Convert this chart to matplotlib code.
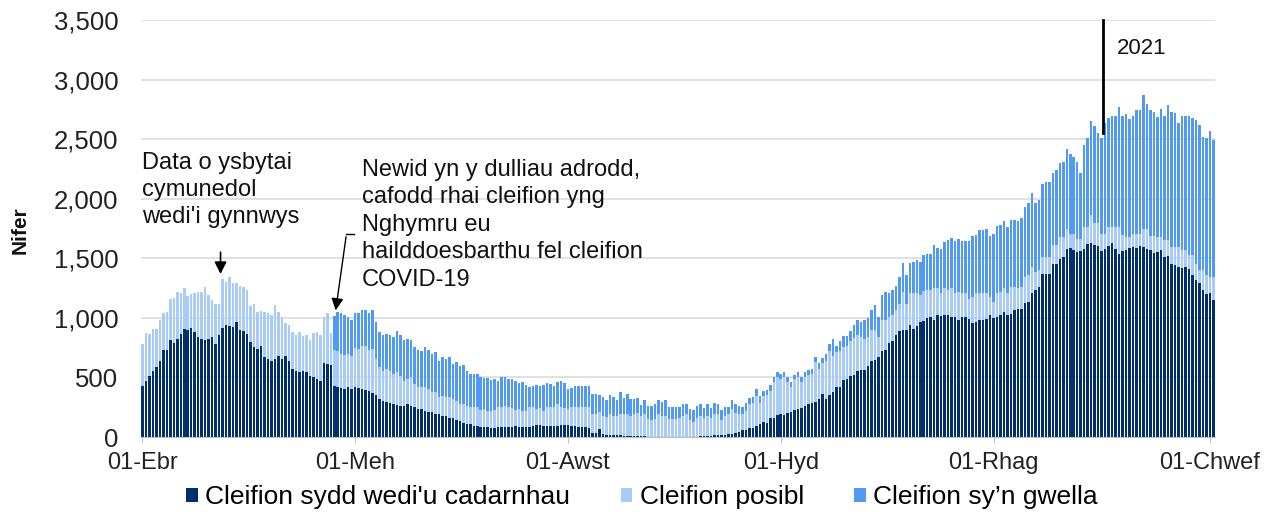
import numpy as np
import pandas as pd
import matplotlib
matplotlib.use("Agg")
import matplotlib.pyplot as plt
from matplotlib.patches import Patch

plt.rcParams['font.family'] = ['Liberation Sans', 'DejaVu Sans']

# dyddiol o 01-04-2020
start_date = "2020-04-01"

confirmed = [
    431, 473, 515, 558, 586, 642, 727, 732, 811, 789,
    825, 868, 910, 896, 918, 882, 839, 820, 811, 820,
    839, 783, 854, 918, 938, 930, 924, 966, 901, 890,
    868, 797, 755, 741, 761, 670, 656, 634, 656, 676,
    656, 676, 642, 572, 558, 549, 558, 544, 515, 501,
    487, 473, 620, 614, 606, 431, 417, 411, 403, 417,
    403, 423, 411, 403, 394, 383, 366, 355, 318, 304,
    290, 282, 276, 270, 262, 262, 276, 262, 248, 234,
    234, 220, 206, 206, 197, 192, 178, 178, 163, 158,
    141, 135, 121, 113, 107, 93, 93, 85, 85, 85,
    79, 74, 80, 85, 85, 85, 85, 94, 85, 85,
    85, 80, 94, 102, 99, 94, 94, 94, 94, 94,
    102, 102, 99, 94, 94, 85, 85, 80, 74, 37,
    37, 65, 23, 17, 17, 17, 17, 17, 11, 9,
    9, 9, 9, 6, 6, 3, 3, 3, 3, 3,
    3, 3, 2, 2, 2, 1, 1, 3, 3, 3,
    6, 6, 8, 11, 14, 14, 14, 17, 22, 28,
    34, 42, 59, 62, 79, 79, 93, 107, 126, 115,
    157, 163, 185, 197, 185, 205, 213, 225, 233, 247,
    261, 281, 289, 298, 317, 360, 317, 351, 374, 421,
    424, 478, 486, 514, 518, 554, 566, 563, 600, 636,
    647, 670, 720, 732, 791, 805, 853, 889, 901, 901,
    937, 909, 929, 965, 974, 1002, 1008, 985, 1022, 1013,
    1022, 1022, 1008, 1008, 979, 1008, 1008, 993, 957, 965,
    979, 985, 993, 1022, 995, 1008, 1022, 1050, 1022, 1036,
    1070, 1078, 1078, 1126, 1134, 1210, 1233, 1261, 1365, 1365,
    1371, 1449, 1455, 1497, 1511, 1581, 1590, 1573, 1553, 1562,
    1581, 1618, 1632, 1615, 1601, 1562, 1581, 1601, 1629, 1581,
    1539, 1562, 1573, 1590, 1596, 1590, 1601, 1596, 1581, 1567,
    1545, 1553, 1567, 1511, 1517, 1455, 1441, 1427, 1421, 1427,
    1413, 1357, 1315, 1292, 1236, 1202, 1208, 1146,
]

possible = [
    346, 403, 353, 349, 321, 338, 315, 319, 344, 374,
    395, 338, 338, 290, 279, 329, 381, 400, 451, 372,
    310, 330, 259, 406, 366, 416, 366, 324, 367, 372,
    366, 302, 358, 310, 295, 381, 381, 389, 451, 375,
    352, 282, 296, 310, 301, 333, 287, 310, 296, 372,
    395, 380, 388, 428, 267, 296, 304, 288, 282, 282,
    273, 326, 330, 358, 369, 344, 375, 301, 268, 254,
    282, 276, 254, 274, 253, 211, 211, 239, 197, 183,
    183, 197, 197, 169, 178, 146, 168, 154, 169, 160,
    163, 141, 155, 149, 141, 155, 155, 140, 149, 135,
    141, 153, 170, 171, 179, 165, 159, 136, 151, 137,
    137, 170, 156, 134, 145, 128, 162, 156, 162, 179,
    154, 142, 137, 156, 162, 171, 171, 176, 182, 156,
    156, 142, 156, 148, 176, 162, 162, 176, 182, 184,
    170, 184, 190, 173, 187, 147, 139, 147, 190, 176,
    176, 147, 148, 147, 161, 176, 190, 137, 123, 160,
    171, 151, 169, 152, 183, 183, 126, 160, 169, 205,
    171, 149, 138, 157, 196, 210, 252, 182, 219, 239,
    231, 295, 315, 289, 315, 253, 203, 261, 267, 211,
    245, 241, 239, 328, 253, 258, 323, 368, 309, 290,
    301, 275, 281, 289, 312, 305, 272, 262, 239, 265,
    254, 169, 259, 253, 217, 217, 211, 231, 318, 219,
    273, 301, 276, 226, 253, 231, 225, 262, 225, 192,
    225, 211, 239, 202, 240, 202, 197, 169, 219, 240,
    226, 220, 212, 154, 139, 197, 197, 197, 183, 225,
    191, 169, 183, 219, 225, 220, 155, 141, 146, 146,
    140, 161, 155, 183, 169, 161, 118, 135, 113, 104,
    183, 146, 230, 183, 197, 146, 127, 163, 135, 183,
    225, 132, 107, 90, 112, 118, 107, 154, 169, 123,
    145, 127, 113, 141, 135, 141, 155, 169, 146, 140,
    112, 168, 140, 112, 168, 155, 135, 197,
]

# dim data cyn 26-05
recovering = [0] * 55 + [
    287, 330, 338, 338, 309,
    304, 293, 296, 304, 302, 315, 324, 310, 296, 296,
    296, 296, 309, 346, 339, 338, 333, 310, 310, 310,
    304, 338, 324, 324, 338, 304, 324, 324, 338, 296,
    324, 324, 332, 296, 282, 282, 282, 276, 262, 276,
    259, 256, 219, 244, 242, 233, 239, 242, 219, 236,
    213, 170, 176, 199, 182, 213, 199, 199, 170, 190,
    216, 211, 170, 165, 170, 170, 170, 170, 170, 165,
    165, 142, 156, 148, 156, 156, 128, 185, 137, 165,
    142, 128, 131, 91, 120, 114, 122, 123, 120, 114,
    134, 100, 104, 104, 90, 104, 90, 93, 99, 98,
    98, 85, 104, 79, 92, 84, 85, 76, 62, 76,
    76, 70, 56, 70, 56, 48, 57, 56, 43, 39,
    50, 42, 42, 42, 42, 48, 42, 36, 42, 42,
    36, 40, 42, 43, 48, 45, 57, 62, 140, 56,
    84, 98, 84, 85, 114, 125, 126, 160, 163, 169,
    205, 169, 212, 234, 202, 216, 203, 225, 239, 239,
    248, 262, 281, 281, 301, 304, 304, 366, 338, 371,
    394, 422, 422, 436, 442, 436, 444, 487, 513, 492,
    529, 529, 540, 507, 572, 562, 563, 563, 557, 563,
    563, 563, 577, 586, 606, 619, 577, 591, 610, 632,
    632, 609, 632, 623, 632, 677, 668, 646, 646, 547,
    688, 744, 787, 814, 753, 800, 927, 913, 927, 927,
    1006, 997, 1031, 989, 983, 1034, 1039, 1124, 1048, 1057,
    1035, 1005, 1073, 1039, 1137, 1129, 1123, 1039, 1130, 1130,
    1166, 1152, 1202, 1217, 1118, 1151, 1222, 1146,
]

series_names = ["Cleifion sydd wedi'u cadarnhau", "Cleifion posibl", "Cleifion sy’n gwella"]
tick_dates = ["2020-04-01", "2020-06-01", "2020-08-01", "2020-10-01", "2020-12-01", "2021-02-01"]
tick_labels = ["01-Ebr", "01-Meh", "01-Awst", "01-Hyd", "01-Rhag", "01-Chwef"]

colors = ["#002F6C", "#A9CBF7", "#5099F5"]

dates = pd.date_range(start_date, periods=len(confirmed), freq="D")
x = np.arange(len(dates))
c = np.array(confirmed)
p = np.array(possible)
r = np.array(recovering)

fig = plt.figure(figsize=(12.74, 5.17), dpi=100)
ax = fig.add_axes([0.1104, 0.1547, 0.8433, 0.8066])

ax.bar(x, c, width=0.72, color=colors[0], linewidth=0)
ax.bar(x, p, width=0.72, bottom=c, color=colors[1], linewidth=0)
ax.bar(x, r, width=0.72, bottom=c + p, color=colors[2], linewidth=0)

ax.set_xlim(-0.5, len(x) - 0.5)
ax.set_ylim(0, 3500)
ax.set_yticks(np.arange(0, 3501, 500))
ax.yaxis.set_major_formatter(matplotlib.ticker.FuncFormatter(lambda v, _: f"{int(v):,}"))
tick_pos = [dates.get_loc(pd.Timestamp(d)) for d in tick_dates]
ax.set_xticks(tick_pos)
ax.set_xticklabels(tick_labels)

ax.grid(axis="y", color="#D9D9D9", linewidth=1.1)
ax.set_axisbelow(True)
for s in ["top", "right", "left"]:
    ax.spines[s].set_visible(False)
ax.spines["bottom"].set_color("#BFBFBF")
ax.tick_params(axis="y", length=0, pad=16, labelsize=18.5, labelcolor="#222222")
ax.tick_params(axis="x", length=4, color="#BFBFBF", pad=7, labelsize=17, labelcolor="#222222")

fig.text(20 / 1274, 1 - 230 / 517, "Nifer", rotation=90, fontsize=15, fontweight="bold",
         ha="center", va="center", color="#111111")

# anodiadau
ax.text(0, 2390, "Data o ysbytai\ncymunedol\nwedi'i gynnwys", fontsize=17,
        va="top", ha="left", linespacing=1.29, color="#111111")
ax.annotate("", xy=(22.4, 1345), xytext=(22.4, 1575),
            arrowprops=dict(arrowstyle="-|>", color="black", lw=1.2, mutation_scale=18))

ax.text(63, 2335, "Newid yn y dulliau adrodd,\ncafodd rhai cleifion yng\nNghymru eu\n"
        "hailddoesbarthu fel cleifion\nCOVID-19", fontsize=17,
        va="top", ha="left", linespacing=1.32, color="#111111")
ax.plot([60.8, 58.5], [1704, 1704], color="black", lw=1.0)
ax.annotate("", xy=(55.3, 1040), xytext=(58.5, 1704),
            arrowprops=dict(arrowstyle="-|>", color="black", lw=1.0, mutation_scale=18))

jan1 = dates.get_loc(pd.Timestamp("2021-01-01")) + 0.5
ax.plot([jan1, jan1], [2552, 3500], color="black", lw=2.0, clip_on=False)
ax.text(jan1 + 4, 3260, "2021", fontsize=16, va="center", ha="left", color="#111111")

handles = [Patch(facecolor=col, edgecolor="none") for col in colors]
fig.legend(handles, series_names, loc="center", bbox_to_anchor=(642 / 1274, 1 - 497 / 517),
           ncol=3, frameon=False, fontsize=19, handlelength=0.45, handleheight=0.45,
           handletextpad=0.27, columnspacing=1.9)

fig.savefig("out.png", dpi=100)
